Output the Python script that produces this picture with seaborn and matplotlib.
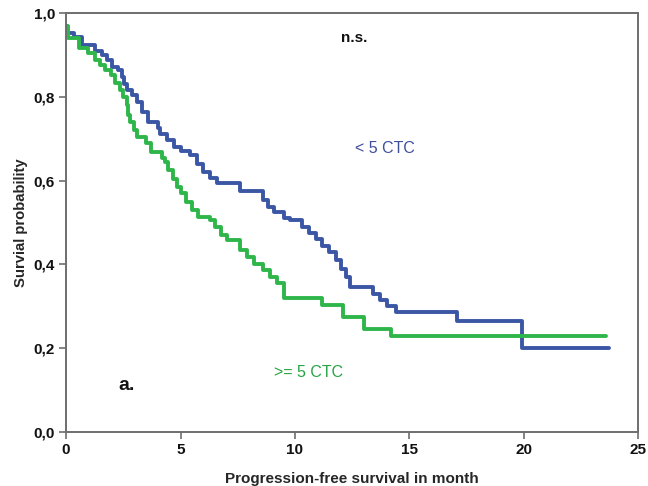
import matplotlib
matplotlib.use("Agg")
import matplotlib.pyplot as plt
import seaborn as sns
import pandas as pd

# Kaplan-Meier step data (time in months, survival probability)
blue_time = [0.0, 0.05, 0.35, 0.7, 1.25, 1.55, 1.8, 2.0, 2.25, 2.45, 2.55, 2.65, 2.9, 3.1,
             3.3, 3.6, 4.0, 4.1, 4.4, 4.7, 5.0, 5.4, 5.7, 6.0, 6.3, 6.6, 7.6, 8.6, 8.8,
             9.1, 9.5, 9.8, 10.3, 10.6, 10.9, 11.2, 11.5, 11.8, 12.0, 12.25, 12.4, 13.4,
             13.7, 14.0, 14.4, 17.1, 19.9, 23.7]
blue_surv = [0.97, 0.952, 0.943, 0.924, 0.91, 0.90, 0.888, 0.871, 0.864, 0.847, 0.83,
             0.816, 0.804, 0.788, 0.764, 0.74, 0.726, 0.712, 0.697, 0.68, 0.67, 0.661,
             0.64, 0.62, 0.607, 0.594, 0.575, 0.555, 0.537, 0.525, 0.512, 0.506, 0.49,
             0.475, 0.46, 0.445, 0.43, 0.41, 0.39, 0.37, 0.346, 0.33, 0.315, 0.30, 0.287,
             0.266, 0.200, 0.200]

green_time = [0.0, 0.1, 0.55, 0.95, 1.25, 1.5, 1.7, 1.95, 2.15, 2.35, 2.5, 2.65, 2.7, 2.8,
              2.95, 3.1, 3.5, 3.7, 4.2, 4.3, 4.45, 4.65, 4.85, 5.0, 5.25, 5.5, 5.75, 6.3,
              6.5, 6.75, 7.05, 7.6, 7.9, 8.2, 8.6, 8.9, 9.2, 9.5, 11.2, 12.1, 13.0, 14.2,
              23.6]
green_surv = [0.97, 0.94, 0.916, 0.905, 0.888, 0.876, 0.864, 0.852, 0.833, 0.816, 0.80,
              0.78, 0.757, 0.74, 0.72, 0.705, 0.69, 0.668, 0.654, 0.644, 0.625, 0.605,
              0.585, 0.57, 0.55, 0.53, 0.513, 0.506, 0.49, 0.47, 0.458, 0.434, 0.418,
              0.40, 0.387, 0.37, 0.356, 0.32, 0.303, 0.274, 0.245, 0.229, 0.229]

x_ticks = [0, 5, 10, 15, 20, 25]
y_ticks = [0.0, 0.2, 0.4, 0.6, 0.8, 1.0]
y_tick_labels = ["0,0", "0,2", "0,4", "0,6", "0,8", "1,0"]

BLUE = "#3b56a5"
GREEN = "#2fb64b"

sns.set_style("white")
plt.rcParams['font.family'] = ['Liberation Sans', 'DejaVu Sans']

fig = plt.figure(figsize=(6.48, 4.86), dpi=100)
ax = fig.add_axes([0.102, 0.111, 0.883, 0.862])

df_b = pd.DataFrame({"t": blue_time, "s": blue_surv})
df_g = pd.DataFrame({"t": green_time, "s": green_surv})

sns.lineplot(data=df_b, x="t", y="s", ax=ax, color=BLUE, lw=2.8,
             drawstyle="steps-post", sort=False, estimator=None)
sns.lineplot(data=df_g, x="t", y="s", ax=ax, color=GREEN, lw=2.8,
             drawstyle="steps-post", sort=False, estimator=None)

ax.set_xlim(0, 25)
ax.set_ylim(0, 1.0)
ax.set_xticks(x_ticks)
ax.set_xticklabels([str(v) for v in x_ticks], fontweight="bold", fontsize=11)
ax.set_yticks(y_ticks)
ax.set_yticklabels(y_tick_labels, fontweight="bold", fontsize=11)

for sp in ax.spines.values():
    sp.set_color("#6e6e6e")
    sp.set_linewidth(1.4)
    sp.set_visible(True)

ax.tick_params(axis="both", direction="out", length=5, width=1.2, color="#6e6e6e",
               labelcolor="#111111", bottom=True, left=True, top=False, right=False, pad=3)

ax.set_xlabel("Progression-free survival in month", fontweight="bold", fontsize=11, labelpad=11)
ax.set_ylabel("Survial probability", fontweight="bold", fontsize=10.7, labelpad=4)

ax.text(12.6, 0.941, "n.s.", color="#111111", fontsize=11, fontweight="bold", ha="center", va="center")
ax.text(13.95, 0.678, "< 5 CTC", color="#3f4f9a", fontsize=11.5, ha="center", va="center")
ax.text(10.6, 0.143, ">= 5 CTC", color="#27a445", fontsize=11.5, ha="center", va="center")
ax.text(2.27, 0.112, "a.", color="#111111", fontsize=14, fontweight="bold", ha="left", va="center")

fig.savefig("out.png", dpi=100, facecolor="white")
